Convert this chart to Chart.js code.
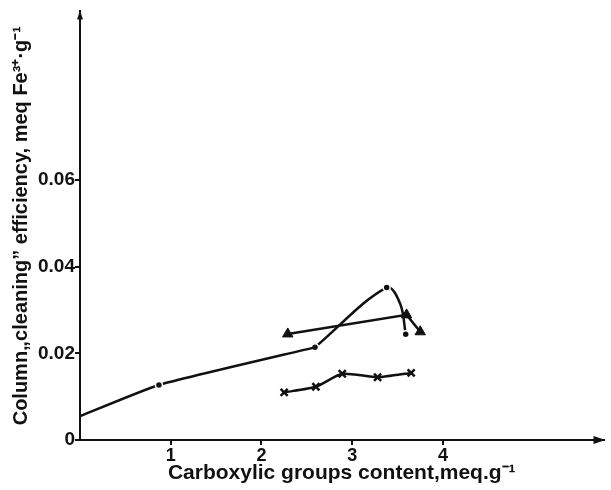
<!DOCTYPE html>
<html>
<head>
<meta charset="utf-8">
<title>Column cleaning efficiency</title>
<script src="https://cdn.jsdelivr.net/npm/chart.js@4/dist/chart.umd.min.js"></script>
<style>
  html, body { margin: 0; padding: 0; background: #fff; }
  canvas { display: block; }
</style>
</head>
<body>
<canvas id="effChart" width="611" height="490"></canvas>
<script>
// ---- data -----------------------------------------------------------------
// carboxylic groups content (meq/g) vs column "cleaning" efficiency (meq Fe3+/g)
// circle series is drawn in two pieces: the gentle rise, then the peak
// (3.53 on the peak piece is an unmarked point on the falling side of the curve)
const circleRiseX = [0, 0.87, 2.59];
const circleRiseY = [0.0055, 0.0127, 0.0214];
const circlePeakX = [2.59, 3.38, 3.53, 3.59];
const circlePeakY = [0.0214, 0.0352, 0.0314, 0.0244];

const triangleX = [2.29, 3.60, 3.75];
const triangleY = [0.0245, 0.0289, 0.0250];

const crossX = [2.25, 2.60, 2.89, 3.28, 3.65];
const crossY = [0.0110, 0.0123, 0.0153, 0.0145, 0.0155];

const xTicks = [1, 2, 3, 4];
const yTicks = [0, 0.02, 0.04, 0.06];

const xMax = 5.77;
const yMax = 0.099;

const INK = '#111';
const FONT = 'Liberation Sans, Arial, sans-serif';

function toPoints(xs, ys) {
    return xs.map((x, i) => ({ x: x, y: ys[i] }));
}

// ---- arrow heads on the axis ends ----------------------------------------
const axisArrows = {
    id: 'axisArrows',
    afterDraw(chart) {
        const { ctx, chartArea: a } = chart;
        ctx.save();
        ctx.fillStyle = INK;
        // x axis, pointing right
        ctx.beginPath();
        ctx.moveTo(a.right + 2, a.bottom);
        ctx.lineTo(a.right - 10, a.bottom - 4);
        ctx.lineTo(a.right - 10, a.bottom + 4);
        ctx.closePath();
        ctx.fill();
        // y axis, pointing up
        ctx.beginPath();
        ctx.moveTo(a.left, a.top - 1);
        ctx.lineTo(a.left - 3, a.top + 8);
        ctx.lineTo(a.left + 3, a.top + 8);
        ctx.closePath();
        ctx.fill();
        ctx.restore();
    }
};

const circleStyle = {
    borderColor: INK,
    borderWidth: 2.5,
    pointStyle: 'circle',
    pointBackgroundColor: INK,
    pointBorderColor: '#fff',
    pointBorderWidth: 1.5
};

new Chart(document.getElementById('effChart'), {
    type: 'line',
    data: {
        datasets: [Object.assign({
            data: toPoints(circleRiseX, circleRiseY),
            tension: 0.15,
            pointRadius: [0, 3.5, 0]
        }, circleStyle), Object.assign({
            data: toPoints(circlePeakX, circlePeakY),
            tension: 0.35,
            pointRadius: [3.5, 3.5, 0, 3.5]
        }, circleStyle), {
            data: toPoints(triangleX, triangleY),
            borderColor: INK,
            borderWidth: 2.5,
            tension: 0,
            pointStyle: 'triangle',
            pointRadius: 6,
            pointBackgroundColor: INK,
            pointBorderColor: INK,
            pointBorderWidth: 1
        }, {
            data: toPoints(crossX, crossY),
            borderColor: INK,
            borderWidth: 2.5,
            tension: 0.2,
            pointStyle: 'crossRot',
            pointRadius: 5,
            pointBorderColor: INK,
            pointBorderWidth: 2.5
        }]
    },
    options: {
        responsive: false,
        animation: false,
        layout: { padding: { left: 0, right: 6, top: 3, bottom: 0 } },
        plugins: {
            legend: { display: false },
            tooltip: { enabled: false }
        },
        scales: {
            x: {
                type: 'linear',
                min: 0,
                max: xMax,
                afterFit(scale) { scale.height = 50; },
                afterBuildTicks(scale) { scale.ticks = xTicks.map(v => ({ value: v })); },
                border: { color: INK, width: 2 },
                grid: { drawOnChartArea: false, color: INK, lineWidth: 2, tickLength: 5 },
                ticks: {
                    color: INK,
                    padding: 0,
                    maxRotation: 0,
                    font: { family: FONT, size: 18, weight: 'bold' }
                },
                title: {
                    display: true,
                    text: 'Carboxylic groups content,meq.g⁻¹',
                    color: INK,
                    padding: { top: 0, bottom: 4 },
                    font: { family: FONT, size: 21, weight: 'bold' }
                }
            },
            y: {
                type: 'linear',
                min: 0,
                max: yMax,
                afterFit(scale) { scale.width = 80; },
                afterBuildTicks(scale) { scale.ticks = yTicks.map(v => ({ value: v })); },
                border: { color: INK, width: 2 },
                grid: { drawOnChartArea: false, color: INK, lineWidth: 2, tickLength: 5 },
                ticks: {
                    color: INK,
                    padding: 0,
                    font: { family: FONT, size: 19, weight: 'bold' },
                    callback: v => v === 0 ? '0' : v.toFixed(2)
                },
                title: {
                    display: true,
                    text: 'Column„cleaning” efficiency, meq Fe³⁺·g⁻¹',
                    color: INK,
                    padding: { top: 9, bottom: 0 },
                    font: { family: FONT, size: 20, weight: 'bold' }
                }
            }
        }
    },
    plugins: [axisArrows]
});
</script>
</body>
</html>
